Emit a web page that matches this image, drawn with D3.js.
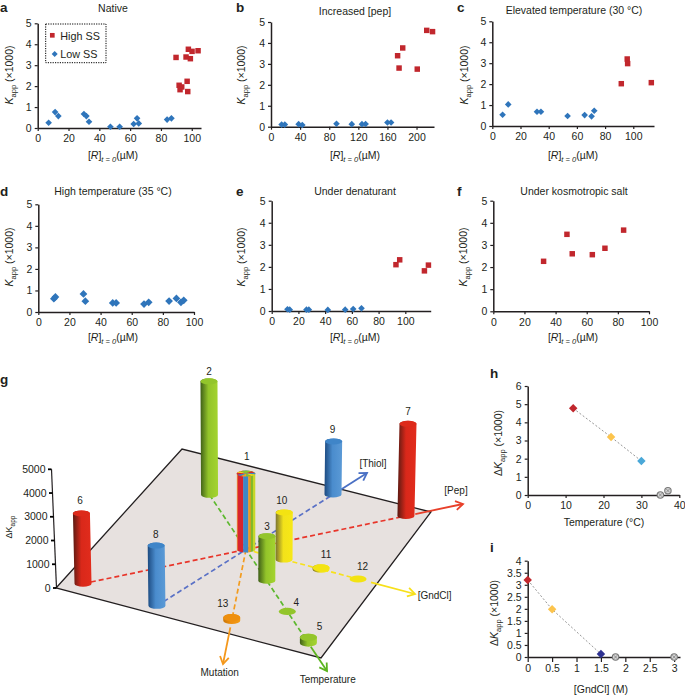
<!DOCTYPE html>
<html><head><meta charset="utf-8">
<script src="https://cdn.jsdelivr.net/npm/d3@7"></script>
<style>html,body{margin:0;padding:0;background:#fff}svg{display:block}text{font-family:"Liberation Sans",Arial,sans-serif;fill:#231f20}</style>
</head><body><svg id="c" width="685" height="695"></svg>
<script>
// ---------- scatter data (x = [R]t=0 µM, y = Kapp/1000) ----------
const aHigh=[[89.8,3.37],[97.8,3.76],[96.3,3.39],[99.1,3.31],[100.2,3.66],[104.1,3.69],[97,2.23],[91.8,2.04],[93.5,1.96],[92.4,1.83],[97.4,1.74]];
const aLow=[[7.1,.25],[11.3,.76],[13.4,.57],[30,.67],[31.6,.57],[33.3,.3],[47.2,.06],[53.2,.06],[62.3,.19],[64.5,.46],[65.6,.22],[84,.4],[86.8,.46]];
const bHigh=[[174,3.39],[176,2.8],[181,3.76],[201,2.75],[214,4.6],[222,4.54]];
const bLow=[[14.6,.1],[19,.1],[38,.12],[43,.08],[90,.14],[111,.12],[125,.12],[130,.13],[160,.2],[165,.2]];
const cHigh=[[91.5,2.02],[95.7,3.2],[96,2.98],[112.8,2.07]];
const cLow=[[7.3,.54],[11.3,1.03],[31.7,.68],[34.5,.68],[53.4,.48],[65.5,.52],[70.4,.46],[72.3,.73]];
const dLow=[[10,.62],[11,.7],[29,.84],[30.2,.5],[47.8,.42],[50,.42],[67.9,.37],[70.9,.45],[84,.51],[88.7,.63],[91.6,.45],[93.4,.54]];
const eHigh=[[93,2.1],[95.8,2.32],[114.3,1.82],[117.3,2.08]];
const eLow=[[11.8,.08],[13.5,.06],[26,.06],[27.8,.06],[42,.05],[55,.06],[61,.09],[67.2,.12]];
const fHigh=[[32.3,2.26],[47.3,3.48],[50.7,2.6],[63.6,2.56],[71.7,2.85],[83.7,3.67]];
const hTemp=[12,22,30,35,37];
const hDelta=[4.77,3.19,1.87,0,.24];
const iGnd=[0,.5,1.5,1.8,3];
const iDelta=[3.2,1.98,.12,0,0];
// ---------- panel g: bar id, axis, position along axis, delta Kapp ----------
const barIds=[2,9,7,1,6,8,10,3,4,11,12,5,13];
const barAxis=["Temperature","Thiol","Pep","Hub","Pep","Thiol","GndCl","Temperature","Temperature","GndCl","GndCl","Temperature","Mutation"];
const barPos=[-.45,.719,.737,0,-.751,-.736,.225,.257,.51,.444,.663,.77,.62];
const barDelta=[4770,2230,3870,3190,2950,2530,1980,1870,0,60,0,240,120];
const gTicks=[0,1000,2000,3000,4000,5000];
const axisNames=["Pep","Thiol","GndCl","Temperature","Mutation"];

// ---------- layout / style ----------
const svg=d3.select("#c");
const INK="#231f20",RED="#c1272d",BLUE="#2f75bb";
const defs=svg.append("defs");
function sub(t,parts,size){ // parts: [text, italic?, sub?]
  parts.forEach(p=>{const s=t.append("tspan").text(p[0]);
    if(p[1])s.attr("font-style","italic");
    if(p[2]){s.attr("font-size",size*.72).attr("dy",2.5);}
    else if(p[3])s.attr("dy",-2.5);});
}
function yLab(x,y,parts,size=10.5){
  const t=svg.append("text").attr("transform",`translate(${x},${y}) rotate(-90)`).attr("text-anchor","middle").attr("font-size",size);
  sub(t,parts,size);
}
function xLab(x,y){
  const t=svg.append("text").attr("x",x).attr("y",y).attr("text-anchor","middle").attr("font-size",10.5);
  sub(t,[["["],["R",true],["]"],["t = 0",true,true],["(µM)",false,false,true]],10.5);
}
const kappParts=[["K",true],["app",false,true],[" (×1000)",false,false,true]];
const dkParts=[["Δ"],["K",true],["app",false,true],[" (×1000)",false,false,true]];
function mkAxes(p){
  const x=d3.scaleLinear().domain([0,p.xMax]).range([p.x0,p.x1]);
  const y=d3.scaleLinear().domain([0,p.yMax]).range([p.y0,p.y1]);
  const ga=svg.append("g").attr("transform",`translate(0,${p.y0})`)
    .call(d3.axisBottom(x).tickValues(p.xt).tickSize(p.xTick||3).tickPadding(p.xPad||4).tickSizeOuter(0).tickFormat(d=>d));
  const gb=svg.append("g").attr("transform",`translate(${p.x0},0)`)
    .call(d3.axisLeft(y).tickValues(p.yt).tickSize(3).tickPadding(3).tickSizeOuter(0).tickFormat(d=>d));
  [ga,gb].forEach(g=>{g.selectAll("text").attr("font-size",10.5).attr("font-family",'"Liberation Sans"').attr("fill",INK);
    g.selectAll("line").attr("stroke",INK).attr("stroke-width",1.2);
    g.selectAll("path").attr("stroke",INK).attr("stroke-width",1.5);});
  return {x,y};
}
const sq=d3.symbol(d3.symbolSquare,30)(), dia=s=>d3.symbol(d3.symbolSquare,s)();
function high(s,arr){svg.append("g").selectAll("path").data(arr).join("path").attr("d",sq).attr("fill",RED)
  .attr("transform",d=>`translate(${s.x(d[0])},${s.y(d[1])})`);}
function low(s,arr,size=22){svg.append("g").selectAll("path").data(arr).join("path").attr("d",dia(size)).attr("fill",BLUE)
  .attr("transform",d=>`translate(${s.x(d[0])},${s.y(d[1])}) rotate(45)`);}
const t20=[0,20,40,60,80,100],y5=[0,1,2,3,4,5];
const panels=[
 {l:"a",lx:0,ly:12,title:"Native",tx:113,ty:12,x0:37.7,x1:201,xMax:106,y0:128,y1:23.3,yMax:5,xt:t20,yt:y5,yl:[13,75],xl:[113,159],hi:aHigh,lo:aLow},
 {l:"b",lx:236,ly:12,title:"Increased [pep]",tx:355,ty:15,x0:271,x1:434,xMax:224,y0:126.7,y1:22,yMax:5,xt:[0,40,80,120,160,200],yt:y5,yl:[245,75],xl:[355,159],hi:bHigh,lo:bLow},
 {l:"c",lx:457,ly:12,title:"Elevated temperature (30 °C)",tx:574,ty:14,x0:492.3,x1:654,xMax:114.7,y0:126,y1:21.3,yMax:5,xt:t20,yt:y5,yl:[468,75],xl:[573,159],hi:cHigh,lo:cLow},
 {l:"d",lx:0,ly:196,title:"High temperature (35 °C)",tx:113,ty:195,x0:38.3,x1:194,xMax:100,y0:312,y1:204.3,yMax:5,xt:t20,yt:y5,yl:[13,257],xl:[113,341],lo:dLow,loS:30},
 {l:"e",lx:236,ly:196,title:"Under denaturant",tx:355,ty:195,x0:271.7,x1:430.7,xMax:119,y0:311,y1:200.7,yMax:5,xt:t20,yt:y5,yl:[245,257],xl:[355,341],hi:eHigh,lo:eLow},
 {l:"f",lx:457,ly:196,title:"Under kosmotropic salt",tx:574,ty:195,x0:493.3,x1:649,xMax:100,y0:311.3,y1:200.7,yMax:5,xt:t20,yt:y5,yl:[467,257],xl:[573,341],hi:fHigh}
];
panels.forEach(p=>{
  svg.append("text").attr("x",p.lx).attr("y",p.ly).attr("font-size",13.5).attr("font-weight","bold").attr("fill","#000").text(p.l);
  svg.append("text").attr("x",p.tx).attr("y",p.ty).attr("text-anchor","middle").attr("font-size",10.5).text(p.title);
  const s=mkAxes(p);
  yLab(p.yl[0],p.yl[1],kappParts); xLab(p.xl[0],p.xl[1]);
  if(p.lo)low(s,p.lo,p.loS); if(p.hi)high(s,p.hi);
});
// legend
svg.append("rect").attr("x",45.7).attr("y",24).attr("width",60.3).attr("height",38.7).attr("fill","none").attr("stroke","#000").attr("stroke-width",1).attr("stroke-dasharray","1.2 1.2");
svg.append("path").attr("d",d3.symbol(d3.symbolSquare,22)()).attr("fill",RED).attr("transform","translate(52.3,35.3)");
svg.append("path").attr("d",dia(18)).attr("fill",BLUE).attr("transform","translate(54.7,54) rotate(45)");
svg.append("text").attr("x",60.3).attr("y",39.5).attr("font-size",10.8).text("High SS");
svg.append("text").attr("x",60.3).attr("y",57.5).attr("font-size",10.8).text("Low SS");

// ---------- h / i ----------
function lineFit(p,xs,ys,cols){
  const s=mkAxes(p);
  svg.append("path").attr("d",d3.line().x(i=>s.x(xs[i])).y(i=>s.y(ys[i]))([0,1,2])).attr("fill","none").attr("stroke","#8a8a8a").attr("stroke-width",.9).attr("stroke-dasharray","2 2");
  xs.forEach((v,i)=>{
    const g=svg.append("g").attr("transform",`translate(${s.x(v)},${s.y(ys[i])})`);
    if(cols[i]){g.append("path").attr("d",dia(36)).attr("transform","rotate(45)").attr("fill",cols[i]);}
    else{g.append("circle").attr("r",3.2).attr("fill","#d4d4d4").attr("stroke","#777").attr("stroke-width",1.1);
      g.append("path").attr("d","M-1.8,-1.8L1.8,1.8M-1.8,1.8L1.8,-1.8").attr("stroke","#777").attr("stroke-width",.7);}
  });
}
[["h",490,378],["i",490,552]].forEach(a=>svg.append("text").attr("x",a[1]).attr("y",a[2]).attr("font-size",13.5).attr("font-weight","bold").attr("fill","#000").text(a[0]));
lineFit({x0:527.7,x1:679.3,xMax:40,y0:495,y1:386,yMax:6,xt:[0,10,20,30,40],yt:[0,1,2,3,4,5,6]},hTemp,hDelta,["#c1272d","#fcc44d","#4aa8d8",null,null]);
lineFit({x0:527.7,x1:680,xMax:3.12,y0:657,y1:560.7,yMax:4,xt:[0,.5,1,1.5,2,2.5,3],yt:[0,.5,1,1.5,2,2.5,3,3.5,4],xTick:5,xPad:3},iGnd,iDelta,["#c1272d","#fcc44d","#2e3192",null,null]);
yLab(502,443,dkParts); yLab(498,613,dkParts);
svg.append("text").attr("x",604).attr("y",526).attr("text-anchor","middle").attr("font-size",10.5).text("Temperature (°C)");
svg.append("text").attr("x",601).attr("y",693).attr("text-anchor","middle").attr("font-size",10.5).text("[GndCl] (M)");

// ---------- g ----------
svg.append("text").attr("x",0).attr("y",384).attr("font-size",13.5).attr("font-weight","bold").attr("fill","#000").text("g");
const HUB=[246,549.5];
const axisEnds={Pep:[463,504],Thiol:[367,473],GndCl:[415,594],Temperature:[327,671],Mutation:[223,664],Hub:[246,549.5]};
const axisCol={Pep:"#e8402a",Thiol:"#4a70c4",GndCl:"#f7e01a",Temperature:"#5cb51f",Mutation:"#f4981c"};
const dashCol={Pep:"#e8352a",Thiol:"#5a71c6",GndCl:"#f7e11b",Temperature:"#5cb82e",Mutation:"#f39c1f"};
// one linear scale per axis; the interpolator reuses its output array, so copy it on read
const along={};Object.keys(axisEnds).forEach(k=>{
  const sx=d3.scaleLinear().domain([0,1]).range([HUB[0],axisEnds[k][0]]);
  const sy=d3.scaleLinear().domain([0,1]).range([HUB[1],axisEnds[k][1]]);
  along[k]=t=>[sx(t),sy(t)];
});
const heightScale=d3.scaleLinear().domain([0,5000]).range([0,119]);
// plane
svg.append("path").attr("d","M56,588L182,449L431,512L321,658Z").attr("fill","#e7e1df").attr("stroke",INK).attr("stroke-width",1.3).attr("stroke-linejoin","miter");
// height axis
const hy=d3.scaleLinear().domain([0,5000]).range([588,469.3]);
const hx=d3.scaleLinear().domain([0,5000]).range([56.5,51.5]);
svg.append("line").attr("x1",hx(0)).attr("y1",hy(0)).attr("x2",hx(5000)).attr("y2",hy(5000)).attr("stroke",INK).attr("stroke-width",1.2);
gTicks.forEach(v=>{
  svg.append("line").attr("x1",hx(v)-3.5).attr("x2",hx(v)).attr("y1",hy(v)).attr("y2",hy(v)).attr("stroke","#000").attr("stroke-width",1.8);
  svg.append("text").attr("x",hx(v)-6).attr("y",hy(v)+3.7).attr("text-anchor","end").attr("font-size",10.5).text(v);
});
{const t=svg.append("text").attr("transform","translate(12,527) rotate(-90)").attr("text-anchor","middle").attr("font-size",9);
 sub(t,[["ΔK"],["app",false,true]],9);}
// dashed and solid axis lines
const seg=(k,a,b)=>{const p=along[k](a),q=along[k](b);return {x1:p[0],y1:p[1],x2:q[0],y2:q[1]};};
const dashRange={Pep:[-.751,.737],Thiol:[-.736,.719],GndCl:[0,.663],Temperature:[-.45,.77],Mutation:[0,.62]};
const solidFrom={Pep:.78,Thiol:.74,GndCl:.74,Temperature:.8,Mutation:.68};
axisNames.forEach(k=>{
  const d=seg(k,dashRange[k][0],dashRange[k][1]);
  svg.append("line").attr("x1",d.x1).attr("y1",d.y1).attr("x2",d.x2).attr("y2",d.y2).attr("stroke",dashCol[k]).attr("stroke-width",1.7).attr("stroke-dasharray","5 3");
  const s=seg(k,solidFrom[k],1);
  svg.append("line").attr("x1",s.x1).attr("y1",s.y1).attr("x2",s.x2).attr("y2",s.y2).attr("stroke",axisCol[k]).attr("stroke-width",1.8);
  const ang=Math.atan2(s.y2-s.y1,s.x2-s.x1),L=8.5,W=.55;
  const pt=a=>[s.x2-L*Math.cos(ang+a),s.y2-L*Math.sin(ang+a)];
  svg.append("path").attr("d",d3.line()([pt(W),[s.x2,s.y2],pt(-W)])).attr("fill","none").attr("stroke",axisCol[k]).attr("stroke-width",1.8);
});
[["[Thiol]",373,466.5,"middle"],["[Pep]",456,494,"middle"],["[GndCl]",417.7,598.5,"start"],["Temperature",327.7,682.5,"middle"],["Mutation",219.7,675.5,"middle"]].forEach(a=>
  svg.append("text").attr("x",a[1]).attr("y",a[2]).attr("text-anchor",a[3]).attr("font-size",10).text(a[0]));
// gradients
const palette={red:["#5a1a12","#d9281a","#e22c1c","#dd2a1a"],green:["#3f5f18","#93c42a","#a4d42f","#93c52b"],blue:["#1c4a80","#4a8ccd","#5b9ad6","#3f85c8"],yellow:["#7a7230","#f2e21a","#f7e816","#f3e312"],orange:["#c9770a","#ee8f0e","#f29a12","#ee8f0e"]};
Object.keys(palette).forEach(k=>{
  const g=defs.append("linearGradient").attr("id","g-"+k);
  [[0,0],[.45,1],[1,2]].forEach(s=>g.append("stop").attr("offset",s[0]).attr("stop-color",palette[k][s[1]]));
});
const barColor={1:"multi",2:"green",3:"green",4:"green",5:"green",6:"red",7:"red",8:"blue",9:"blue",10:"yellow",11:"yellow",12:"yellow",13:"orange"};
const labelOff={1:[.7,-14],2:[0,-6],3:[0,-6],4:[9,-5],5:[11,-7],6:[-1.5,-9],7:[0,-9],8:[-.5,-7.5],9:[-1,-8],10:[-2.5,-8],11:[5,-9.5],12:[4.5,-9.5],13:[-9,-10.5]};
const stripes=[["#f0a020",.05],["#d8242f",.3],["#3f87c8",.27],["#ef9a20",.13],["#7fb92c",.12],["#c7d62a",.13]];
const pieCols=["#8fbf2a","#d8242f","#3f87c8","#f3d91a","#8fbf2a","#f0a020","#3f87c8","#d8242f","#f3d91a","#8fbf2a"];
barIds.forEach((id,i)=>{
  const b=along[barAxis[i]](barPos[i]),h=heightScale(barDelta[i]);
  const lean=h*(b[0]-HUB[0])*.00014,rx=id===1?9.4:8.5,ry=id>=11||id===4||id===5?3.6:3;
  const tx=b[0]+lean,ty=b[1]-h;
  const g=svg.append("g");
  const body=`M${tx-rx},${ty}L${b[0]-rx},${b[1]}A${rx},${ry} 0 0 0 ${b[0]+rx},${b[1]}L${tx+rx},${ty}A${rx},${ry} 0 0 0 ${tx-rx},${ty}Z`;
  const c=barColor[id];
  if(c==="multi"){
    defs.append("clipPath").attr("id","clip1").append("path").attr("d",body);
    const cg=g.append("g").attr("clip-path","url(#clip1)");
    let acc=0;
    stripes.forEach(s=>{cg.append("rect").attr("x",b[0]-rx+acc*2*rx).attr("y",ty-5).attr("width",s[1]*2*rx+.3).attr("height",h+12).attr("fill",s[0]);acc+=s[1];});
    const arc=d3.arc().innerRadius(0).outerRadius(rx);
    const pie=d3.pie().value(1).sort(null)(pieCols);
    const tg=g.append("g").attr("transform",`translate(${tx},${ty}) scale(1,${ry/rx})`);
    tg.selectAll("path").data(pie).join("path").attr("d",arc).attr("fill",d=>d.data);
  } else {
    if(h>0) g.append("path").attr("d",body).attr("fill",`url(#g-${c})`);
    g.append("ellipse").attr("cx",tx).attr("cy",ty).attr("rx",rx).attr("ry",ry).attr("fill",palette[c][3]);
  }
  const o=labelOff[id];
  svg.append("text").attr("x",tx+o[0]).attr("y",ty+o[1]).attr("text-anchor","middle").attr("font-size",10).text(id);
});
</script></body></html>
